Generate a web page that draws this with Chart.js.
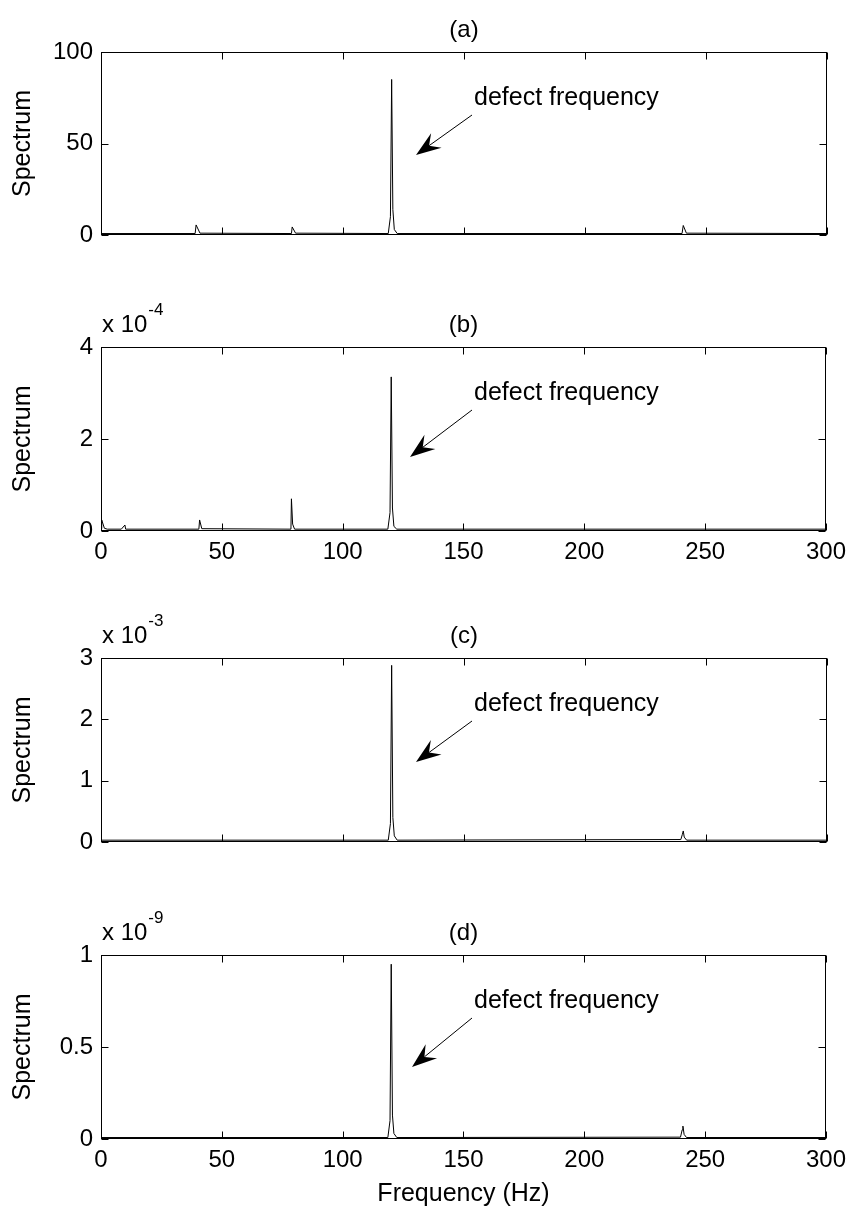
<!DOCTYPE html>
<html><head><meta charset="utf-8">
<script src="https://cdn.jsdelivr.net/npm/chart.js@4.4.0/dist/chart.umd.min.js"></script>
<style>
html,body{margin:0;padding:0;background:#fff;}
#wrap{position:relative;width:853px;height:1213px;overflow:hidden;background:#fff;}
canvas{position:absolute;left:0;}
</style></head><body><div id="wrap">
<canvas id="ca"></canvas><canvas id="cb"></canvas><canvas id="cc"></canvas><canvas id="cd"></canvas>
</div>
<script>
// ---- data ----
const xTicks = [0, 50, 100, 150, 200, 250, 300];

// (a) linear units
const freqA = [0, 38.9, 39.3, 40.9, 78.7, 79.0, 80.4, 118.7, 119.6, 120.1, 120.6, 121.2, 122.4, 240.1, 240.6, 241.9, 300];
const specA = [0.8, 0.8, 5.5, 1.0, 0.8, 4.4, 1.0, 0.8, 10, 85, 14, 3, 0.8, 0.8, 5.2, 1.0, 0.8];
const yTicksA = [0, 50, 100];

// (b) units of 1e-4
const freqB = [0, 0.3, 1.4, 2.6, 8.4, 9.9, 10.2, 40.5, 40.8, 41.7, 78.6, 78.8, 79.3, 80.1, 118.7, 119.6, 120.1, 120.6, 121.2, 122.4, 300];
const specB = [0.05, 0.24, 0.06, 0.04, 0.04, 0.13, 0.04, 0.04, 0.24, 0.05, 0.04, 0.70, 0.15, 0.04, 0.04, 0.4, 3.35, 0.5, 0.1, 0.04, 0.04];
const yTicksB = [0, 2, 4];
const expB = -4;

// (c) units of 1e-3
const freqC = [0, 118.7, 119.6, 120.1, 120.6, 121.2, 122.4, 239.6, 240.2, 240.6, 241.0, 242.0, 300];
const specC = [0.03, 0.03, 0.3, 2.88, 0.4, 0.1, 0.03, 0.04, 0.12, 0.18, 0.08, 0.03, 0.03];
const yTicksC = [0, 1, 2, 3];
const expC = -3;

// (d) units of 1e-9
const freqD = [0, 118.7, 119.6, 120.1, 120.6, 121.2, 122.4, 239.8, 240.5, 240.8, 241.3, 242.3, 300];
const specD = [0.008, 0.008, 0.1, 0.95, 0.13, 0.03, 0.008, 0.01, 0.05, 0.07, 0.025, 0.008, 0.008];
const yTicksD = [0, 0.5, 1];
const expD = -9;

const FONT = "'Liberation Sans', Arial, Helvetica, sans-serif";
Chart.defaults.color = '#000';
Chart.defaults.font.family = FONT;

function drawArrow(ctx, x0, y0, x1, y1) {
  const dx = x1 - x0, dy = y1 - y0, len = Math.hypot(dx, dy);
  const ux = dx / len, uy = dy / len, px = -uy, py = ux;
  const hl = 25, hw = 9, notch = 16;
  ctx.beginPath();
  ctx.moveTo(x0, y0);
  ctx.lineTo(x1 - ux * notch, y1 - uy * notch);
  ctx.stroke();
  const bx = x1 - ux * hl, by = y1 - uy * hl;
  ctx.beginPath();
  ctx.moveTo(x1, y1);
  ctx.lineTo(bx + px * hw, by + py * hw);
  ctx.lineTo(x1 - ux * notch, y1 - uy * notch);
  ctx.lineTo(bx - px * hw, by - py * hw);
  ctx.closePath();
  ctx.fill();
}

const matlabAxes = {
  id: 'matlabAxes',
  afterDraw(chart, args, o) {
    const {ctx, chartArea: a} = chart;
    const x = chart.scales.x, y = chart.scales.y;
    ctx.save();
    ctx.strokeStyle = '#000'; ctx.fillStyle = '#000'; ctx.lineWidth = 1;
    const L = Math.round(a.left) + 0.5, R = Math.round(a.right) - 0.5;
    const T = Math.round(a.top) + 0.5, B = Math.round(a.bottom) - 0.5;
    ctx.strokeRect(L, T, R - L, B - T);
    const tl = 7;
    ctx.beginPath();
    x.ticks.forEach(t => {
      const p = Math.round(x.getPixelForValue(t.value)) + 0.5;
      ctx.moveTo(p, B); ctx.lineTo(p, B - tl);
      ctx.moveTo(p, T); ctx.lineTo(p, T + tl);
    });
    y.ticks.forEach(t => {
      const p = Math.round(y.getPixelForValue(t.value)) + 0.5;
      ctx.moveTo(L, p); ctx.lineTo(L + tl, p);
      ctx.moveTo(R, p); ctx.lineTo(R - tl, p);
    });
    ctx.stroke();
    // title
    ctx.textBaseline = 'middle';
    ctx.font = '24px ' + FONT;
    ctx.textAlign = 'center';
    ctx.fillText(o.title, (a.left + a.right) / 2, a.top - 22);
    // exponent
    if (o.exp !== null && o.exp !== undefined) {
      ctx.textAlign = 'left';
      ctx.font = '24px ' + FONT;
      const s = 'x 10';
      ctx.fillText(s, a.left + 1, a.top - 22);
      const w = ctx.measureText(s).width;
      ctx.font = '17px ' + FONT;
      ctx.fillText(String(o.exp), a.left + 1 + w + 1, a.top - 37);
    }
    // annotation
    ctx.font = '25px ' + FONT;
    ctx.textAlign = 'left';
    ctx.fillText('defect frequency', 474, a.top + 46);
    drawArrow(ctx, 472, a.top + 63, o.tip[0], a.top + o.tip[1]);
    ctx.restore();
  }
};

function makeChart(id, c) {
  const cv = document.getElementById(id);
  cv.width = 853; cv.height = c.h; cv.style.top = c.top + 'px';
  cv.style.width = '853px'; cv.style.height = c.h + 'px';
  return new Chart(cv, {
    type: 'line',
    data: { datasets: [{
      data: c.freq.map((f, i) => ({x: f, y: c.spec[i]})),
      borderColor: '#000', borderWidth: 1, pointRadius: 0, tension: 0, fill: false
    }]},
    options: {
      responsive: false, animation: false, events: [],
      devicePixelRatio: 1,
      layout: { padding: { left: 0, right: 26, top: c.pt, bottom: c.pb } },
      plugins: {
        legend: { display: false }, tooltip: { enabled: false },
        matlabAxes: { title: c.title, exp: c.exp, tip: c.tip }
      },
      scales: {
        x: {
          type: 'linear', min: 0, max: 300,
          grid: { display: false, drawTicks: false }, border: { display: false },
          afterBuildTicks: s => { s.ticks = xTicks.map(v => ({value: v})); },
          afterFit: s => { s.height = c.xh; },
          ticks: { display: c.showX, padding: 7, color: '#000', font: { family: FONT, size: 24 },
                   maxRotation: 0, autoSkip: false, callback: v => String(v) },
          title: { display: !!c.xTitle, text: c.xTitle || '', color: '#000',
                   font: { family: FONT, size: 25 }, padding: { top: 0, bottom: 0 } }
        },
        y: {
          type: 'linear', min: 0, max: c.yTicks[c.yTicks.length - 1],
          grid: { display: false, drawTicks: false }, border: { display: false },
          afterBuildTicks: s => { s.ticks = c.yTicks.map(v => ({value: v})); },
          afterFit: s => { s.width = 101; },
          ticks: { padding: 8, color: '#000', font: { family: FONT, size: 24 }, callback: v => String(v) },
          title: { display: true, text: 'Spectrum', color: '#000',
                   font: { family: FONT, size: 25 }, padding: { top: 8, bottom: 0 } }
        }
      }
    },
    plugins: [matlabAxes]
  });
}

makeChart('ca', { top: 0, h: 280, pt: 52, pb: 45, xh: 0, showX: false, freq: freqA, spec: specA, yTicks: yTicksA, title: '(a)', exp: null, tip: [416, 103] });
makeChart('cb', { top: 290, h: 300, pt: 57, pb: 19, xh: 40, showX: true, freq: freqB, spec: specB, yTicks: yTicksB, title: '(b)', exp: expB, tip: [410, 110] });
makeChart('cc', { top: 600, h: 280, pt: 58, pb: 38, xh: 0, showX: false, freq: freqC, spec: specC, yTicks: yTicksC, title: '(c)', exp: expC, tip: [416, 104] });
makeChart('cd', { top: 895, h: 318, pt: 60, pb: 4, xh: 70, showX: true, freq: freqD, spec: specD, yTicks: yTicksD, title: '(d)', exp: expD, tip: [412, 112], xTitle: 'Frequency (Hz)' });
</script>
</body></html>
